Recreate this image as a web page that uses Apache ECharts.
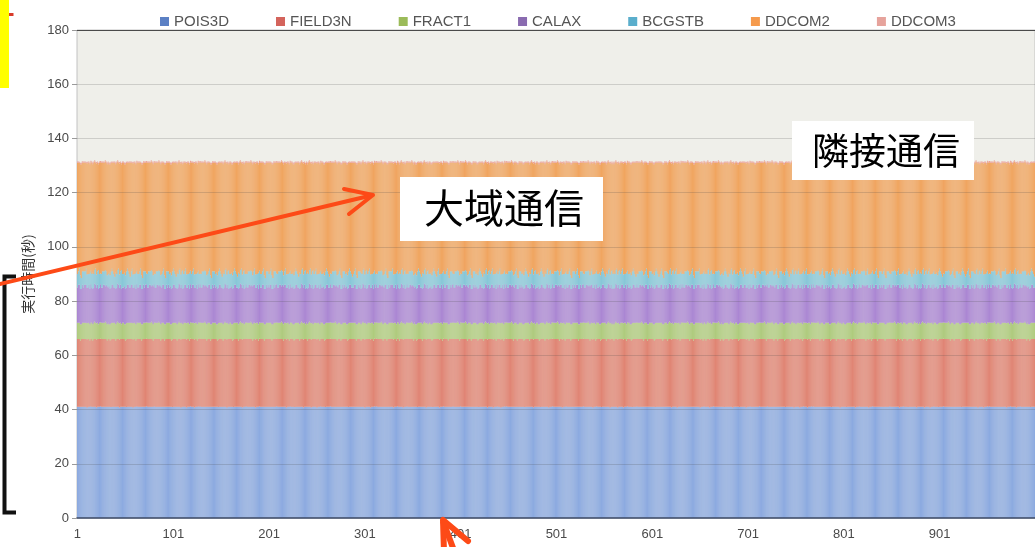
<!DOCTYPE html>
<html>
<head>
<meta charset="utf-8">
<script src="https://cdn.jsdelivr.net/npm/echarts/dist/echarts.min.js"></script>
<style>
  html, body { margin: 0; padding: 0; background: #ffffff; }
  #chart { width: 1035px; height: 547px; }
</style>
</head>
<body>
<div id="chart"></div>
<script>
// Execution time (seconds) per process, broken down by routine.
const POIS3D = [
41,41,41,41,41,41,41,41,41,41,40.8,41,41,41,41.2,41,41,41,41,41,40.8,41,41,41,41.2,41,41,41,41,41,41,41,41,41,41,40.9,41,41,41,41,
41,41,41,41,40.8,41,41,41,41,41,41,40.9,41,41,41,41,41,41,40.8,41,41,41,41.2,41,41,41,41,41,41,41,41,41,41.2,41,41,41,41,41,41,41,
41.2,41,41,41,41,41,41,41,41,41,41,41,41,41,41,41,41,41,41,40.9,41,41,41,41,41,41,41,41,40.8,41,41,41,41,41,40.8,41,41,41,41.2,41,
41,41,40.8,41,41,41,41.2,41,41.2,41,41,41,41,41,41,41,41,41,41,41,41,41,41,41,41,41,41,40.9,41,41,41,41,41,41,41,41,40.8,41,41,41,
41,41,41,40.9,41,41,41,41,41,41,41,41,40.8,41,41,41,41.2,41,41,41,41,41,41,41,41,41,40.8,41,41,41,41.2,41,41,41,41,41,41,41,41,41,
41,41,41,41,41,41,41,41,41.2,41,41,41,41,41,41,41,41,41,40.8,41,41,41,41.2,41,41,41,41,40.9,41,41,41,41,41,41,41,41,40.8,41,41,41,
41,41,41,41,40.8,41,41,41,41,41,40.8,41,41,41,41.2,41,41,41,41,40.9,41,41,41,41,41.2,41,41,41,41,41,41,41,41,41,41,41,41,41,41,41,
41,41,41,40.9,41,41,41,41,41,41,41,41,41,41,41,41,41,41,41,41,40.8,41,41,41,41,41,40.8,41,41,41,41.2,41,41.2,41,41,41,41,41,41,41,
41,41,41,41,41,41,41,41,41,41,40.8,41,41,41,41.2,41,41,41,41,41,40.8,41,41,41,41.2,41,41,41,41,41,41,41,41,41,41,40.9,41,41,41,41,
41,41,41,41,40.8,41,41,41,41,41,41,40.9,41,41,41,41,41,41,40.8,41,41,41,41.2,41,41,41,41,41,41,41,41,41,41.2,41,41,41,41,41,41,41,
41.2,41,41,41,41,41,41,41,41,41,41,41,41,41,41,41,41,41,41,40.9,41,41,41,41,41,41,41,41,40.8,41,41,41,41,41,40.8,41,41,41,41.2,41,
41,41,40.8,41,41,41,41.2,41,41.2,41,41,41,41,41,41,41,41,41,41,41,41,41,41,41,41,41,41,40.9,41,41,41,41,41,41,41,41,40.8,41,41,41,
41,41,41,40.9,41,41,41,41,41,41,41,41,40.8,41,41,41,41.2,41,41,41,41,41,41,41,41,41,40.8,41,41,41,41.2,41,41,41,41,41,41,41,41,41,
41,41,41,41,41,41,41,41,41.2,41,41,41,41,41,41,41,41,41,40.8,41,41,41,41.2,41,41,41,41,40.9,41,41,41,41,41,41,41,41,40.8,41,41,41,
41,41,41,41,40.8,41,41,41,41,41,40.8,41,41,41,41.2,41,41,41,41,40.9,41,41,41,41,41.2,41,41,41,41,41,41,41,41,41,41,41,41,41,41,41,
41,41,41,40.9,41,41,41,41,41,41,41,41,41,41,41,41,41,41,41,41,40.8,41,41,41,41,41,40.8,41,41,41,41.2,41,41.2,41,41,41,41,41,41,41,
41,41,41,41,41,41,41,41,41,41,40.8,41,41,41,41.2,41,41,41,41,41,40.8,41,41,41,41.2,41,41,41,41,41,41,41,41,41,41,40.9,41,41,41,41,
41,41,41,41,40.8,41,41,41,41,41,41,40.9,41,41,41,41,41,41,40.8,41,41,41,41.2,41,41,41,41,41,41,41,41,41,41.2,41,41,41,41,41,41,41,
41.2,41,41,41,41,41,41,41,41,41,41,41,41,41,41,41,41,41,41,40.9,41,41,41,41,41,41,41,41,40.8,41,41,41,41,41,40.8,41,41,41,41.2,41,
41,41,40.8,41,41,41,41.2,41,41.2,41,41,41,41,41,41,41,41,41,41,41,41,41,41,41,41,41,41,40.9,41,41,41,41,41,41,41,41,40.8,41,41,41,
41,41,41,40.9,41,41,41,41,41,41,41,41,40.8,41,41,41,41.2,41,41,41,41,41,41,41,41,41,40.8,41,41,41,41.2,41,41,41,41,41,41,41,41,41,
41,41,41,41,41,41,41,41,41.2,41,41,41,41,41,41,41,41,41,40.8,41,41,41,41.2,41,41,41,41,40.9,41,41,41,41,41,41,41,41,40.8,41,41,41,
41,41,41,41,40.8,41,41,41,41,41,40.8,41,41,41,41.2,41,41,41,41,40.9,41,41,41,41,41.2,41,41,41,41,41,41,41,41,41,41,41,41,41,41,41,
41,41,41,40.9,41,41,41,41,41,41,41,41,41,41,41,41,41,41,41,41,40.8,41,41,41,41,41,40.8,41,41,41,41.2,41,41.2,41,41,41,41,41,41,41,
41,41,41,41,41,41,41,41,41,41,40.8,41,41,41,41.2,41,41,41,41,41,40.8,41,41,41,41.2,41,41,41,41,41,41,41,41,41,41,40.9,41,41,41,41
];
const FIELD3N = [
25,25,25,24.5,25,25,25,25,25,25,25,25,25,24.5,25,25,24.5,25,25,25,25,25,25,25,25,25,25,25,25,25,25,24.5,25,25,24.5,25,25,25,25,25,
24.5,25,25,25,25,25,25,25,25,25,24.5,25,25,25,25,25,25,25,25,25,25,24.5,25,25,25,25,25,24.5,25,25,25,25,25,25,25,25,25,25,25,24.5,
25,25,25,25,25,25,25,24.5,25,25,25,24.5,25,25,25,25,25,25,24.5,25,25,25,25,25,24.5,25,25,25,25,25,25,25,25,25,25,25,25,24.5,25,25,
25,25,25,25,25,24.5,25,25,25,25,25,25,25,25,25,24.5,25,25,25,24.5,25,25,25,25,25,25,24.5,25,25,25,25,25,24.5,25,25,25,25,25,25,25,
25,25,24.5,25,25,25,25,25,24.5,25,25,25,25,25,25,25,25,25,25,25,25,25,25,24.5,25,25,25,25,25,24.5,25,25,25,25,25,24.5,25,25,25,25,
25,25,25,24.5,25,25,25,25,25,25,25,25,25,25,25,24.5,25,25,25,25,25,24.5,25,25,25,25,24.5,25,25,25,25,25,24.5,25,25,25,25,25,25,25,
24.5,25,25,25,25,25,25,25,25,25,25,25,25,24.5,25,25,25,25,24.5,25,25,25,25,25,25,25,25,25,25,25,25,24.5,25,25,25,24.5,25,25,25,25,
25,25,24.5,25,25,25,25,25,25,25,25,24.5,25,25,25,25,24.5,25,25,25,25,25,25,25,25,25,25,25,25,24.5,25,25,25,25,25,25,25,25,25,24.5,
25,25,25,24.5,25,25,25,25,25,25,25,25,25,24.5,25,25,24.5,25,25,25,25,25,25,25,25,25,25,25,25,25,25,24.5,25,25,24.5,25,25,25,25,25,
24.5,25,25,25,25,25,25,25,25,25,24.5,25,25,25,25,25,25,25,25,25,25,24.5,25,25,25,25,25,24.5,25,25,25,25,25,25,25,25,25,25,25,24.5,
25,25,25,25,25,25,25,24.5,25,25,25,24.5,25,25,25,25,25,25,24.5,25,25,25,25,25,24.5,25,25,25,25,25,25,25,25,25,25,25,25,24.5,25,25,
25,25,25,25,25,24.5,25,25,25,25,25,25,25,25,25,24.5,25,25,25,24.5,25,25,25,25,25,25,24.5,25,25,25,25,25,24.5,25,25,25,25,25,25,25,
25,25,24.5,25,25,25,25,25,24.5,25,25,25,25,25,25,25,25,25,25,25,25,25,25,24.5,25,25,25,25,25,24.5,25,25,25,25,25,24.5,25,25,25,25,
25,25,25,24.5,25,25,25,25,25,25,25,25,25,25,25,24.5,25,25,25,25,25,24.5,25,25,25,25,24.5,25,25,25,25,25,24.5,25,25,25,25,25,25,25,
24.5,25,25,25,25,25,25,25,25,25,25,25,25,24.5,25,25,25,25,24.5,25,25,25,25,25,25,25,25,25,25,25,25,24.5,25,25,25,24.5,25,25,25,25,
25,25,24.5,25,25,25,25,25,25,25,25,24.5,25,25,25,25,24.5,25,25,25,25,25,25,25,25,25,25,25,25,24.5,25,25,25,25,25,25,25,25,25,24.5,
25,25,25,24.5,25,25,25,25,25,25,25,25,25,24.5,25,25,24.5,25,25,25,25,25,25,25,25,25,25,25,25,25,25,24.5,25,25,24.5,25,25,25,25,25,
24.5,25,25,25,25,25,25,25,25,25,24.5,25,25,25,25,25,25,25,25,25,25,24.5,25,25,25,25,25,24.5,25,25,25,25,25,25,25,25,25,25,25,24.5,
25,25,25,25,25,25,25,24.5,25,25,25,24.5,25,25,25,25,25,25,24.5,25,25,25,25,25,24.5,25,25,25,25,25,25,25,25,25,25,25,25,24.5,25,25,
25,25,25,25,25,24.5,25,25,25,25,25,25,25,25,25,24.5,25,25,25,24.5,25,25,25,25,25,25,24.5,25,25,25,25,25,24.5,25,25,25,25,25,25,25,
25,25,24.5,25,25,25,25,25,24.5,25,25,25,25,25,25,25,25,25,25,25,25,25,25,24.5,25,25,25,25,25,24.5,25,25,25,25,25,24.5,25,25,25,25,
25,25,25,24.5,25,25,25,25,25,25,25,25,25,25,25,24.5,25,25,25,25,25,24.5,25,25,25,25,24.5,25,25,25,25,25,24.5,25,25,25,25,25,25,25,
24.5,25,25,25,25,25,25,25,25,25,25,25,25,24.5,25,25,25,25,24.5,25,25,25,25,25,25,25,25,25,25,25,25,24.5,25,25,25,24.5,25,25,25,25,
25,25,24.5,25,25,25,25,25,25,25,25,24.5,25,25,25,25,24.5,25,25,25,25,25,25,25,25,25,25,25,25,24.5,25,25,25,25,25,25,25,25,25,24.5,
25,25,25,24.5,25,25,25,25,25,25,25,25,25,24.5,25,25,24.5,25,25,25,25,25,25,25,25,25,25,25,25,25,25,24.5,25,25,24.5,25,25,25,25,25
];
const FRACT1 = [
6,6,6,6,5.5,6,6,6,6,6,6,6,6,6,6,6,6,6,6.5,6,6,6,5.5,6,6,6,6,6,6,6.5,6,6,6,5.5,6,6,6,6,6,6,
6,6,6.5,6,6,6,5.5,6,6,5.5,6,6,6,6,6,6,6,6,6,6,6,6,6,6,6,6,6,6,5.5,6,6,6,6,6,6,6,6,6.5,6,6,
6,6,6,6,6,6.5,6,6,6,6,6,6,5.5,6,6,6,6,5.5,6,6,6,6,6,6,6,6,6.5,6,6,6,5.5,6,6,6,6,6,6,6,6,6,
6,6,6,6,6,6,6,6,6,6,6,6,6,6.5,6,6,6,6,6,6,5.5,6,6,6,6,5.5,6,6,6,6,6,6,6,6,6.5,6,6,6,5.5,6,
6,5.5,6,6,6,6,6,6,6,6,6.5,6,6,6,5.5,6,6,6,6,6,6,6.5,6,6,6,6,6,6,6,6,6,6,6,6,6,6,5.5,6,6,6,
6,6,6,6,5.5,6,6,6,6,6,6,6,6,6.5,6,6,6,6,6,6,6,6,6,6,6,5.5,6,6,6,6,6,6,6,6,6.5,6,6,6,5.5,6,
6,6,6.5,6,6,6,5.5,6,6,6,6,6,6,6,6,6,6,5.5,6,6,6,6,6,6,6,6,6,6,6,6.5,6,6,6,6,6,6,5.5,6,6,6,
6,5.5,6,6,6,6,6,6,6,6,6,6,5.5,6,6,6,6,6,6.5,6,6,6,5.5,6,6,6,6,6,6,6,6,6,6,6,6,6,6,6.5,6,6,
6,6,6,6,5.5,6,6,6,6,6,6,6,6,6,6,6,6,6,6.5,6,6,6,5.5,6,6,6,6,6,6,6.5,6,6,6,5.5,6,6,6,6,6,6,
6,6,6.5,6,6,6,5.5,6,6,5.5,6,6,6,6,6,6,6,6,6,6,6,6,6,6,6,6,6,6,5.5,6,6,6,6,6,6,6,6,6.5,6,6,
6,6,6,6,6,6.5,6,6,6,6,6,6,5.5,6,6,6,6,5.5,6,6,6,6,6,6,6,6,6.5,6,6,6,5.5,6,6,6,6,6,6,6,6,6,
6,6,6,6,6,6,6,6,6,6,6,6,6,6.5,6,6,6,6,6,6,5.5,6,6,6,6,5.5,6,6,6,6,6,6,6,6,6.5,6,6,6,5.5,6,
6,5.5,6,6,6,6,6,6,6,6,6.5,6,6,6,5.5,6,6,6,6,6,6,6.5,6,6,6,6,6,6,6,6,6,6,6,6,6,6,5.5,6,6,6,
6,6,6,6,5.5,6,6,6,6,6,6,6,6,6.5,6,6,6,6,6,6,6,6,6,6,6,5.5,6,6,6,6,6,6,6,6,6.5,6,6,6,5.5,6,
6,6,6.5,6,6,6,5.5,6,6,6,6,6,6,6,6,6,6,5.5,6,6,6,6,6,6,6,6,6,6,6,6.5,6,6,6,6,6,6,5.5,6,6,6,
6,5.5,6,6,6,6,6,6,6,6,6,6,5.5,6,6,6,6,6,6.5,6,6,6,5.5,6,6,6,6,6,6,6,6,6,6,6,6,6,6,6.5,6,6,
6,6,6,6,5.5,6,6,6,6,6,6,6,6,6,6,6,6,6,6.5,6,6,6,5.5,6,6,6,6,6,6,6.5,6,6,6,5.5,6,6,6,6,6,6,
6,6,6.5,6,6,6,5.5,6,6,5.5,6,6,6,6,6,6,6,6,6,6,6,6,6,6,6,6,6,6,5.5,6,6,6,6,6,6,6,6,6.5,6,6,
6,6,6,6,6,6.5,6,6,6,6,6,6,5.5,6,6,6,6,5.5,6,6,6,6,6,6,6,6,6.5,6,6,6,5.5,6,6,6,6,6,6,6,6,6,
6,6,6,6,6,6,6,6,6,6,6,6,6,6.5,6,6,6,6,6,6,5.5,6,6,6,6,5.5,6,6,6,6,6,6,6,6,6.5,6,6,6,5.5,6,
6,5.5,6,6,6,6,6,6,6,6,6.5,6,6,6,5.5,6,6,6,6,6,6,6.5,6,6,6,6,6,6,6,6,6,6,6,6,6,6,5.5,6,6,6,
6,6,6,6,5.5,6,6,6,6,6,6,6,6,6.5,6,6,6,6,6,6,6,6,6,6,6,5.5,6,6,6,6,6,6,6,6,6.5,6,6,6,5.5,6,
6,6,6.5,6,6,6,5.5,6,6,6,6,6,6,6,6,6,6,5.5,6,6,6,6,6,6,6,6,6,6,6,6.5,6,6,6,6,6,6,5.5,6,6,6,
6,5.5,6,6,6,6,6,6,6,6,6,6,5.5,6,6,6,6,6,6.5,6,6,6,5.5,6,6,6,6,6,6,6,6,6,6,6,6,6,6,6.5,6,6,
6,6,6,6,5.5,6,6,6,6,6,6,6,6,6,6,6,6,6,6.5,6,6,6,5.5,6,6,6,6,6,6,6.5,6,6,6,5.5,6,6,6,6,6,6
];
const CALAX = [
13,14,14,13,13,14,13,14,14,14,13,13,14,13,14,13,13,13,14,14,13,14,13,13,14,13,13,14,14,13,14,14,13,14,13,13,14,14,13,13,
13,13,14,14,13,14,13,13,13,14,13,13,14,14,13,13,14,14,13,13,14,13,14,13,13,14,14,13,13,14,13,14,14,13,13,14,14,13,14,14,
14,13,13,14,14,13,14,14,13,14,14,13,13,14,13,14,13,14,13,13,14,14,13,13,13,13,14,14,13,14,13,13,14,14,13,13,14,13,14,13,
14,14,13,13,14,13,14,13,14,13,13,14,14,13,14,14,13,14,14,13,13,14,13,14,13,14,13,13,14,14,13,13,13,13,14,14,13,14,13,13,
13,14,13,13,14,14,13,13,13,13,14,14,13,14,13,13,14,13,13,14,14,13,14,14,14,14,13,13,14,13,14,13,13,14,14,13,13,14,13,14,
13,14,14,13,13,14,13,14,14,13,13,14,14,13,14,14,14,14,13,13,14,13,14,13,13,14,13,13,14,14,13,13,13,13,14,14,13,14,13,13,
13,13,14,14,13,14,13,13,14,14,13,13,14,13,14,13,13,14,13,13,14,14,13,13,14,13,13,14,14,13,14,14,13,14,14,13,13,14,13,14,
13,14,13,13,14,14,13,13,13,14,14,13,13,14,13,14,13,13,14,14,13,14,13,13,14,14,13,13,14,13,14,13,14,13,13,14,14,13,14,14,
13,14,14,13,13,14,13,14,14,14,13,13,14,13,14,13,13,13,14,14,13,14,13,13,14,13,13,14,14,13,14,14,13,14,13,13,14,14,13,13,
13,13,14,14,13,14,13,13,13,14,13,13,14,14,13,13,14,14,13,13,14,13,14,13,13,14,14,13,13,14,13,14,14,13,13,14,14,13,14,14,
14,13,13,14,14,13,14,14,13,14,14,13,13,14,13,14,13,14,13,13,14,14,13,13,13,13,14,14,13,14,13,13,14,14,13,13,14,13,14,13,
14,14,13,13,14,13,14,13,14,13,13,14,14,13,14,14,13,14,14,13,13,14,13,14,13,14,13,13,14,14,13,13,13,13,14,14,13,14,13,13,
13,14,13,13,14,14,13,13,13,13,14,14,13,14,13,13,14,13,13,14,14,13,14,14,14,14,13,13,14,13,14,13,13,14,14,13,13,14,13,14,
13,14,14,13,13,14,13,14,14,13,13,14,14,13,14,14,14,14,13,13,14,13,14,13,13,14,13,13,14,14,13,13,13,13,14,14,13,14,13,13,
13,13,14,14,13,14,13,13,14,14,13,13,14,13,14,13,13,14,13,13,14,14,13,13,14,13,13,14,14,13,14,14,13,14,14,13,13,14,13,14,
13,14,13,13,14,14,13,13,13,14,14,13,13,14,13,14,13,13,14,14,13,14,13,13,14,14,13,13,14,13,14,13,14,13,13,14,14,13,14,14,
13,14,14,13,13,14,13,14,14,14,13,13,14,13,14,13,13,13,14,14,13,14,13,13,14,13,13,14,14,13,14,14,13,14,13,13,14,14,13,13,
13,13,14,14,13,14,13,13,13,14,13,13,14,14,13,13,14,14,13,13,14,13,14,13,13,14,14,13,13,14,13,14,14,13,13,14,14,13,14,14,
14,13,13,14,14,13,14,14,13,14,14,13,13,14,13,14,13,14,13,13,14,14,13,13,13,13,14,14,13,14,13,13,14,14,13,13,14,13,14,13,
14,14,13,13,14,13,14,13,14,13,13,14,14,13,14,14,13,14,14,13,13,14,13,14,13,14,13,13,14,14,13,13,13,13,14,14,13,14,13,13,
13,14,13,13,14,14,13,13,13,13,14,14,13,14,13,13,14,13,13,14,14,13,14,14,14,14,13,13,14,13,14,13,13,14,14,13,13,14,13,14,
13,14,14,13,13,14,13,14,14,13,13,14,14,13,14,14,14,14,13,13,14,13,14,13,13,14,13,13,14,14,13,13,13,13,14,14,13,14,13,13,
13,13,14,14,13,14,13,13,14,14,13,13,14,13,14,13,13,14,13,13,14,14,13,13,14,13,13,14,14,13,14,14,13,14,14,13,13,14,13,14,
13,14,13,13,14,14,13,13,13,14,14,13,13,14,13,14,13,13,14,14,13,14,13,13,14,14,13,13,14,13,14,13,14,13,13,14,14,13,14,14,
13,14,14,13,13,14,13,14,14,14,13,13,14,13,14,13,13,13,14,14,13,14,13,13,14,13,13,14,14,13,14,14,13,14,13,13,14,14,13,13
];
const BCGSTB = [
5,5,6,5,4,5,6,5,5,6,5,5,4,6,5,5,6,5,5,6,5,5,7,5,4,5,6,5,5,6,5,4,5,5,5,6,6,5,5,4,
6,5,5,6,5,5,7,5,5,5,5,6,6,5,5,4,5,6,5,5,4,6,5,5,5,5,6,5,4,5,6,5,4,5,6,5,5,6,5,4,
4,5,6,5,5,6,5,4,5,5,6,5,4,5,6,5,5,5,5,6,6,5,5,4,6,5,5,6,5,5,7,5,5,6,5,5,4,6,5,5,
5,6,5,5,4,6,5,5,4,5,6,5,5,6,5,4,5,5,6,5,4,5,6,5,5,5,5,6,6,5,5,4,6,5,5,6,5,5,7,5,
5,5,5,6,6,5,5,4,6,5,5,6,5,5,7,5,4,5,6,5,5,6,5,4,5,6,5,5,4,6,5,5,5,5,6,5,4,5,6,5,
5,5,6,5,4,5,6,5,4,5,6,5,5,6,5,4,5,6,5,5,4,6,5,5,5,5,5,6,6,5,5,4,6,5,5,6,5,5,7,5,
6,5,5,6,5,5,7,5,5,6,5,5,4,6,5,5,5,5,5,6,6,5,5,4,4,5,6,5,5,6,5,4,5,5,6,5,4,5,6,5,
5,5,5,6,6,5,5,4,5,5,6,5,4,5,6,5,6,5,5,6,5,5,7,5,5,6,5,5,4,6,5,5,4,5,6,5,5,6,5,4,
5,5,6,5,4,5,6,5,5,6,5,5,4,6,5,5,6,5,5,6,5,5,7,5,4,5,6,5,5,6,5,4,5,5,5,6,6,5,5,4,
6,5,5,6,5,5,7,5,5,5,5,6,6,5,5,4,5,6,5,5,4,6,5,5,5,5,6,5,4,5,6,5,4,5,6,5,5,6,5,4,
4,5,6,5,5,6,5,4,5,5,6,5,4,5,6,5,5,5,5,6,6,5,5,4,6,5,5,6,5,5,7,5,5,6,5,5,4,6,5,5,
5,6,5,5,4,6,5,5,4,5,6,5,5,6,5,4,5,5,6,5,4,5,6,5,5,5,5,6,6,5,5,4,6,5,5,6,5,5,7,5,
5,5,5,6,6,5,5,4,6,5,5,6,5,5,7,5,4,5,6,5,5,6,5,4,5,6,5,5,4,6,5,5,5,5,6,5,4,5,6,5,
5,5,6,5,4,5,6,5,4,5,6,5,5,6,5,4,5,6,5,5,4,6,5,5,5,5,5,6,6,5,5,4,6,5,5,6,5,5,7,5,
6,5,5,6,5,5,7,5,5,6,5,5,4,6,5,5,5,5,5,6,6,5,5,4,4,5,6,5,5,6,5,4,5,5,6,5,4,5,6,5,
5,5,5,6,6,5,5,4,5,5,6,5,4,5,6,5,6,5,5,6,5,5,7,5,5,6,5,5,4,6,5,5,4,5,6,5,5,6,5,4,
5,5,6,5,4,5,6,5,5,6,5,5,4,6,5,5,6,5,5,6,5,5,7,5,4,5,6,5,5,6,5,4,5,5,5,6,6,5,5,4,
6,5,5,6,5,5,7,5,5,5,5,6,6,5,5,4,5,6,5,5,4,6,5,5,5,5,6,5,4,5,6,5,4,5,6,5,5,6,5,4,
4,5,6,5,5,6,5,4,5,5,6,5,4,5,6,5,5,5,5,6,6,5,5,4,6,5,5,6,5,5,7,5,5,6,5,5,4,6,5,5,
5,6,5,5,4,6,5,5,4,5,6,5,5,6,5,4,5,5,6,5,4,5,6,5,5,5,5,6,6,5,5,4,6,5,5,6,5,5,7,5,
5,5,5,6,6,5,5,4,6,5,5,6,5,5,7,5,4,5,6,5,5,6,5,4,5,6,5,5,4,6,5,5,5,5,6,5,4,5,6,5,
5,5,6,5,4,5,6,5,4,5,6,5,5,6,5,4,5,6,5,5,4,6,5,5,5,5,5,6,6,5,5,4,6,5,5,6,5,5,7,5,
6,5,5,6,5,5,7,5,5,6,5,5,4,6,5,5,5,5,5,6,6,5,5,4,4,5,6,5,5,6,5,4,5,5,6,5,4,5,6,5,
5,5,5,6,6,5,5,4,5,5,6,5,4,5,6,5,6,5,5,6,5,5,7,5,5,6,5,5,4,6,5,5,4,5,6,5,5,6,5,4,
5,5,6,5,4,5,6,5,5,6,5,5,4,6,5,5,6,5,5,6,5,5,7,5,4,5,6,5,5,6,5,4,5,5,5,6,6,5,5,4
];
const DDCOM2 = [
41,40,39,41,42,40,40,40,40,39,41,41,41,40,40,41,40,41,40,39,41,40,39,41,41,41,40,40,40,40,40,41,41,40,41,40,39,40,41,42,
40,41,40,39,41,40,39,41,41,40,41,40,39,40,41,42,40,39,41,41,41,40,40,41,41,40,39,41,42,40,40,40,41,41,40,40,40,40,40,41,
41,41,40,40,40,40,40,41,41,40,39,41,42,40,40,40,41,40,41,40,39,40,41,42,40,41,40,39,41,40,39,41,40,39,41,41,41,40,40,41,
40,39,41,41,41,40,40,41,41,41,40,40,40,40,40,41,41,40,39,41,42,40,40,40,41,40,41,40,39,40,41,42,40,41,40,39,41,40,39,41,
41,40,41,40,39,40,41,42,40,41,40,39,41,40,39,41,41,41,40,40,40,40,40,41,40,39,41,41,41,40,40,41,41,40,39,41,42,40,40,40,
41,40,39,41,42,40,40,40,41,41,40,40,40,40,40,41,40,39,41,41,41,40,40,41,41,40,41,40,39,40,41,42,40,41,40,39,41,40,39,41,
40,41,40,39,41,40,39,41,40,39,41,41,41,40,40,41,41,40,41,40,39,40,41,42,41,41,40,40,40,40,40,41,41,40,39,41,42,40,40,40,
41,40,41,40,39,40,41,42,41,40,39,41,42,40,40,40,40,41,40,39,41,40,39,41,40,39,41,41,41,40,40,41,41,41,40,40,40,40,40,41,
41,40,39,41,42,40,40,40,40,39,41,41,41,40,40,41,40,41,40,39,41,40,39,41,41,41,40,40,40,40,40,41,41,40,41,40,39,40,41,42,
40,41,40,39,41,40,39,41,41,40,41,40,39,40,41,42,40,39,41,41,41,40,40,41,41,40,39,41,42,40,40,40,41,41,40,40,40,40,40,41,
41,41,40,40,40,40,40,41,41,40,39,41,42,40,40,40,41,40,41,40,39,40,41,42,40,41,40,39,41,40,39,41,40,39,41,41,41,40,40,41,
40,39,41,41,41,40,40,41,41,41,40,40,40,40,40,41,41,40,39,41,42,40,40,40,41,40,41,40,39,40,41,42,40,41,40,39,41,40,39,41,
41,40,41,40,39,40,41,42,40,41,40,39,41,40,39,41,41,41,40,40,40,40,40,41,40,39,41,41,41,40,40,41,41,40,39,41,42,40,40,40,
41,40,39,41,42,40,40,40,41,41,40,40,40,40,40,41,40,39,41,41,41,40,40,41,41,40,41,40,39,40,41,42,40,41,40,39,41,40,39,41,
40,41,40,39,41,40,39,41,40,39,41,41,41,40,40,41,41,40,41,40,39,40,41,42,41,41,40,40,40,40,40,41,41,40,39,41,42,40,40,40,
41,40,41,40,39,40,41,42,41,40,39,41,42,40,40,40,40,41,40,39,41,40,39,41,40,39,41,41,41,40,40,41,41,41,40,40,40,40,40,41,
41,40,39,41,42,40,40,40,40,39,41,41,41,40,40,41,40,41,40,39,41,40,39,41,41,41,40,40,40,40,40,41,41,40,41,40,39,40,41,42,
40,41,40,39,41,40,39,41,41,40,41,40,39,40,41,42,40,39,41,41,41,40,40,41,41,40,39,41,42,40,40,40,41,41,40,40,40,40,40,41,
41,41,40,40,40,40,40,41,41,40,39,41,42,40,40,40,41,40,41,40,39,40,41,42,40,41,40,39,41,40,39,41,40,39,41,41,41,40,40,41,
40,39,41,41,41,40,40,41,41,41,40,40,40,40,40,41,41,40,39,41,42,40,40,40,41,40,41,40,39,40,41,42,40,41,40,39,41,40,39,41,
41,40,41,40,39,40,41,42,40,41,40,39,41,40,39,41,41,41,40,40,40,40,40,41,40,39,41,41,41,40,40,41,41,40,39,41,42,40,40,40,
41,40,39,41,42,40,40,40,41,41,40,40,40,40,40,41,40,39,41,41,41,40,40,41,41,40,41,40,39,40,41,42,40,41,40,39,41,40,39,41,
40,41,40,39,41,40,39,41,40,39,41,41,41,40,40,41,41,40,41,40,39,40,41,42,41,41,40,40,40,40,40,41,41,40,39,41,42,40,40,40,
41,40,41,40,39,40,41,42,41,40,39,41,42,40,40,40,40,41,40,39,41,40,39,41,40,39,41,41,41,40,40,41,41,41,40,40,40,40,40,41,
41,40,39,41,42,40,40,40,40,39,41,41,41,40,40,41,40,41,40,39,41,40,39,41,41,41,40,40,40,40,40,41,41,40,41,40,39,40,41,42
];
const DDCOM3 = [
0.5,0.5,0.4,0.5,0.5,0.6,0.5,0.5,0.5,0.4,0.5,0.5,0.5,0.5,0.6,0.5,0.6,0.5,0.5,0.4,0.5,0.5,0.5,0.5,0.5,0.5,0.5,0.5,0.4,0.5,0.5,0.6,0.5,0.6,0.5,0.5,0.5,0.4,0.5,0.5,
0.6,0.5,0.5,0.4,0.5,0.5,0.5,0.5,0.5,0.6,0.5,0.5,0.5,0.4,0.5,0.5,0.5,0.4,0.5,0.5,0.5,0.5,0.6,0.5,0.5,0.5,0.4,0.5,0.5,0.6,0.5,0.5,0.5,0.5,0.5,0.5,0.4,0.5,0.5,0.6,
0.5,0.5,0.5,0.5,0.4,0.5,0.5,0.6,0.5,0.5,0.4,0.5,0.5,0.6,0.5,0.5,0.5,0.6,0.5,0.5,0.5,0.4,0.5,0.5,0.6,0.5,0.5,0.4,0.5,0.5,0.5,0.5,0.5,0.4,0.5,0.5,0.5,0.5,0.6,0.5,
0.5,0.4,0.5,0.5,0.5,0.5,0.6,0.5,0.5,0.5,0.5,0.5,0.4,0.5,0.5,0.6,0.5,0.5,0.4,0.5,0.5,0.6,0.5,0.5,0.5,0.6,0.5,0.5,0.5,0.4,0.5,0.5,0.6,0.5,0.5,0.4,0.5,0.5,0.5,0.5,
0.5,0.6,0.5,0.5,0.5,0.4,0.5,0.5,0.6,0.5,0.5,0.4,0.5,0.5,0.5,0.5,0.5,0.5,0.5,0.5,0.4,0.5,0.5,0.6,0.5,0.4,0.5,0.5,0.5,0.5,0.6,0.5,0.5,0.5,0.4,0.5,0.5,0.6,0.5,0.5,
0.5,0.5,0.4,0.5,0.5,0.6,0.5,0.5,0.5,0.5,0.5,0.5,0.4,0.5,0.5,0.6,0.5,0.4,0.5,0.5,0.5,0.5,0.6,0.5,0.5,0.6,0.5,0.5,0.5,0.4,0.5,0.5,0.6,0.5,0.5,0.4,0.5,0.5,0.5,0.5,
0.6,0.5,0.5,0.4,0.5,0.5,0.5,0.5,0.5,0.4,0.5,0.5,0.5,0.5,0.6,0.5,0.5,0.6,0.5,0.5,0.5,0.4,0.5,0.5,0.5,0.5,0.5,0.5,0.4,0.5,0.5,0.6,0.5,0.5,0.4,0.5,0.5,0.6,0.5,0.5,
0.5,0.6,0.5,0.5,0.5,0.4,0.5,0.5,0.5,0.5,0.4,0.5,0.5,0.6,0.5,0.5,0.6,0.5,0.5,0.4,0.5,0.5,0.5,0.5,0.5,0.4,0.5,0.5,0.5,0.5,0.6,0.5,0.5,0.5,0.5,0.5,0.4,0.5,0.5,0.6,
0.5,0.5,0.4,0.5,0.5,0.6,0.5,0.5,0.5,0.4,0.5,0.5,0.5,0.5,0.6,0.5,0.6,0.5,0.5,0.4,0.5,0.5,0.5,0.5,0.5,0.5,0.5,0.5,0.4,0.5,0.5,0.6,0.5,0.6,0.5,0.5,0.5,0.4,0.5,0.5,
0.6,0.5,0.5,0.4,0.5,0.5,0.5,0.5,0.5,0.6,0.5,0.5,0.5,0.4,0.5,0.5,0.5,0.4,0.5,0.5,0.5,0.5,0.6,0.5,0.5,0.5,0.4,0.5,0.5,0.6,0.5,0.5,0.5,0.5,0.5,0.5,0.4,0.5,0.5,0.6,
0.5,0.5,0.5,0.5,0.4,0.5,0.5,0.6,0.5,0.5,0.4,0.5,0.5,0.6,0.5,0.5,0.5,0.6,0.5,0.5,0.5,0.4,0.5,0.5,0.6,0.5,0.5,0.4,0.5,0.5,0.5,0.5,0.5,0.4,0.5,0.5,0.5,0.5,0.6,0.5,
0.5,0.4,0.5,0.5,0.5,0.5,0.6,0.5,0.5,0.5,0.5,0.5,0.4,0.5,0.5,0.6,0.5,0.5,0.4,0.5,0.5,0.6,0.5,0.5,0.5,0.6,0.5,0.5,0.5,0.4,0.5,0.5,0.6,0.5,0.5,0.4,0.5,0.5,0.5,0.5,
0.5,0.6,0.5,0.5,0.5,0.4,0.5,0.5,0.6,0.5,0.5,0.4,0.5,0.5,0.5,0.5,0.5,0.5,0.5,0.5,0.4,0.5,0.5,0.6,0.5,0.4,0.5,0.5,0.5,0.5,0.6,0.5,0.5,0.5,0.4,0.5,0.5,0.6,0.5,0.5,
0.5,0.5,0.4,0.5,0.5,0.6,0.5,0.5,0.5,0.5,0.5,0.5,0.4,0.5,0.5,0.6,0.5,0.4,0.5,0.5,0.5,0.5,0.6,0.5,0.5,0.6,0.5,0.5,0.5,0.4,0.5,0.5,0.6,0.5,0.5,0.4,0.5,0.5,0.5,0.5,
0.6,0.5,0.5,0.4,0.5,0.5,0.5,0.5,0.5,0.4,0.5,0.5,0.5,0.5,0.6,0.5,0.5,0.6,0.5,0.5,0.5,0.4,0.5,0.5,0.5,0.5,0.5,0.5,0.4,0.5,0.5,0.6,0.5,0.5,0.4,0.5,0.5,0.6,0.5,0.5,
0.5,0.6,0.5,0.5,0.5,0.4,0.5,0.5,0.5,0.5,0.4,0.5,0.5,0.6,0.5,0.5,0.6,0.5,0.5,0.4,0.5,0.5,0.5,0.5,0.5,0.4,0.5,0.5,0.5,0.5,0.6,0.5,0.5,0.5,0.5,0.5,0.4,0.5,0.5,0.6,
0.5,0.5,0.4,0.5,0.5,0.6,0.5,0.5,0.5,0.4,0.5,0.5,0.5,0.5,0.6,0.5,0.6,0.5,0.5,0.4,0.5,0.5,0.5,0.5,0.5,0.5,0.5,0.5,0.4,0.5,0.5,0.6,0.5,0.6,0.5,0.5,0.5,0.4,0.5,0.5,
0.6,0.5,0.5,0.4,0.5,0.5,0.5,0.5,0.5,0.6,0.5,0.5,0.5,0.4,0.5,0.5,0.5,0.4,0.5,0.5,0.5,0.5,0.6,0.5,0.5,0.5,0.4,0.5,0.5,0.6,0.5,0.5,0.5,0.5,0.5,0.5,0.4,0.5,0.5,0.6,
0.5,0.5,0.5,0.5,0.4,0.5,0.5,0.6,0.5,0.5,0.4,0.5,0.5,0.6,0.5,0.5,0.5,0.6,0.5,0.5,0.5,0.4,0.5,0.5,0.6,0.5,0.5,0.4,0.5,0.5,0.5,0.5,0.5,0.4,0.5,0.5,0.5,0.5,0.6,0.5,
0.5,0.4,0.5,0.5,0.5,0.5,0.6,0.5,0.5,0.5,0.5,0.5,0.4,0.5,0.5,0.6,0.5,0.5,0.4,0.5,0.5,0.6,0.5,0.5,0.5,0.6,0.5,0.5,0.5,0.4,0.5,0.5,0.6,0.5,0.5,0.4,0.5,0.5,0.5,0.5,
0.5,0.6,0.5,0.5,0.5,0.4,0.5,0.5,0.6,0.5,0.5,0.4,0.5,0.5,0.5,0.5,0.5,0.5,0.5,0.5,0.4,0.5,0.5,0.6,0.5,0.4,0.5,0.5,0.5,0.5,0.6,0.5,0.5,0.5,0.4,0.5,0.5,0.6,0.5,0.5,
0.5,0.5,0.4,0.5,0.5,0.6,0.5,0.5,0.5,0.5,0.5,0.5,0.4,0.5,0.5,0.6,0.5,0.4,0.5,0.5,0.5,0.5,0.6,0.5,0.5,0.6,0.5,0.5,0.5,0.4,0.5,0.5,0.6,0.5,0.5,0.4,0.5,0.5,0.5,0.5,
0.6,0.5,0.5,0.4,0.5,0.5,0.5,0.5,0.5,0.4,0.5,0.5,0.5,0.5,0.6,0.5,0.5,0.6,0.5,0.5,0.5,0.4,0.5,0.5,0.5,0.5,0.5,0.5,0.4,0.5,0.5,0.6,0.5,0.5,0.4,0.5,0.5,0.6,0.5,0.5,
0.5,0.6,0.5,0.5,0.5,0.4,0.5,0.5,0.5,0.5,0.4,0.5,0.5,0.6,0.5,0.5,0.6,0.5,0.5,0.4,0.5,0.5,0.5,0.5,0.5,0.4,0.5,0.5,0.5,0.5,0.6,0.5,0.5,0.5,0.5,0.5,0.4,0.5,0.5,0.6,
0.5,0.5,0.4,0.5,0.5,0.6,0.5,0.5,0.5,0.4,0.5,0.5,0.5,0.5,0.6,0.5,0.6,0.5,0.5,0.4,0.5,0.5,0.5,0.5,0.5,0.5,0.5,0.5,0.4,0.5,0.5,0.6,0.5,0.6,0.5,0.5,0.5,0.4,0.5,0.5
];

const seriesNames = ['POIS3D', 'FIELD3N', 'FRACT1', 'CALAX', 'BCGSTB', 'DDCOM2', 'DDCOM3'];
const seriesValues = [POIS3D, FIELD3N, FRACT1, CALAX, BCGSTB, DDCOM2, DDCOM3];
const yTicks = { min: 0, max: 180, step: 20 };

// Process numbers 1..N along the x axis.
const processIds = POIS3D.map((_, i) => String(i + 1));

// Styling
const barColors   = ['#8caae0', '#e08574', '#afcb7e', '#ab87d3', '#88c7d8', '#f0a560', '#eca19a'];
const legendColors = ['#5b80c4', '#d4645c', '#9bbb59', '#8a6bb0', '#5aaecc', '#f59a4c', '#e6a39c'];
const arrowColor = '#fd4a17';
const cjkFont = '"Noto Sans CJK JP", "Noto Sans CJK SC", sans-serif';

const chart = echarts.init(document.getElementById('chart'), null, { renderer: 'canvas' });

// Horizontal gridlines: hidden at 0 (x axis), faint in between, dark frame line at the top.
const gridLineColors = ['rgba(0,0,0,0)'];
for (let v = yTicks.min + yTicks.step; v < yTicks.max; v += yTicks.step) gridLineColors.push('rgba(70,70,70,0.2)');
gridLineColors.push('#4a4a4a');

chart.setOption({
  animation: false,
  backgroundColor: '#ffffff',
  textStyle: { fontFamily: '"Liberation Sans", Arial, sans-serif' },
  legend: {
    left: 155,
    top: 9,
    icon: 'rect',
    itemWidth: 9,
    itemHeight: 9,
    itemGap: 47,
    textStyle: { fontSize: 15, color: '#555555' },
    data: seriesNames.map((n, i) => ({ name: n, itemStyle: { color: legendColors[i] } }))
  },
  grid: {
    left: 77,
    right: 0,
    top: 30,
    bottom: 29,
    show: true,
    backgroundColor: '#efefea',
    borderColor: '#c2c2c2',
    borderWidth: 1
  },
  xAxis: {
    type: 'category',
    data: processIds,
    z: 3,
    axisLine: { lineStyle: { color: '#3d4a66', width: 1.5 } },
    axisTick: { show: false },
    axisLabel: { interval: 99, fontSize: 13, color: '#4a4a4a', margin: 10 }
  },
  yAxis: {
    type: 'value',
    min: yTicks.min,
    max: yTicks.max,
    interval: yTicks.step,
    z: 3,
    name: '実行時間(秒)',
    nameLocation: 'middle',
    nameGap: 42,
    nameTextStyle: { fontFamily: cjkFont, fontSize: 14, color: '#333333' },
    axisLine: { show: false },
    axisTick: { show: true, length: 5, lineStyle: { color: '#9a9a9a' } },
    axisLabel: { fontSize: 13, color: '#4a4a4a', margin: 8 },
    splitLine: { show: true, lineStyle: { color: gridLineColors, width: 1 } }
  },
  series: seriesNames.map((n, i) => ({
    name: n,
    type: 'bar',
    stack: 'time',
    data: seriesValues[i],
    barCategoryGap: '20%',
    silent: true,
    itemStyle: { color: barColors[i] }
  })),
  graphic: [
    { type: 'rect', z: 100, shape: { x: 0, y: 0, width: 9, height: 88 }, style: { fill: '#ffff00' } },
    { type: 'rect', z: 100, shape: { x: 9, y: 13, width: 4.5, height: 3 }, style: { fill: '#d83a2a' } },
    { type: 'polyline', z: 100, shape: { points: [[16, 276.5], [4.5, 276.5], [4.5, 512.5], [16, 512.5]] },
      style: { stroke: '#111111', lineWidth: 4, fill: null } },
    { type: 'line', z: 100, shape: { x1: -2, y1: 284.5, x2: 371, y2: 195.5 },
      style: { stroke: arrowColor, lineWidth: 4, lineCap: 'round' } },
    { type: 'polyline', z: 100, shape: { points: [[344, 189], [373, 195], [349, 214]] },
      style: { stroke: arrowColor, lineWidth: 4, lineCap: 'round', lineJoin: 'round', fill: null } },
    { type: 'line', z: 100, shape: { x1: 443, y1: 521, x2: 456, y2: 556 },
      style: { stroke: arrowColor, lineWidth: 6 } },
    { type: 'polyline', z: 100, shape: { points: [[468, 541], [443, 520], [444, 552]] },
      style: { stroke: arrowColor, lineWidth: 6, lineCap: 'round', lineJoin: 'round', fill: null } },
    { type: 'rect', z: 100, shape: { x: 400, y: 177, width: 203, height: 64 }, style: { fill: '#ffffff' } },
    { type: 'text', z: 101, x: 504, y: 208,
      style: { text: '大域通信', font: '40px ' + cjkFont, fill: '#000000',
               align: 'center', verticalAlign: 'middle', textAlign: 'center', textVerticalAlign: 'middle' } },
    { type: 'rect', z: 100, shape: { x: 792, y: 121, width: 182, height: 59 }, style: { fill: '#ffffff' } },
    { type: 'text', z: 101, x: 886, y: 151,
      style: { text: '隣接通信', font: '37px ' + cjkFont, fill: '#000000',
               align: 'center', verticalAlign: 'middle', textAlign: 'center', textVerticalAlign: 'middle' } }
  ]
});
</script>
</body>
</html>
